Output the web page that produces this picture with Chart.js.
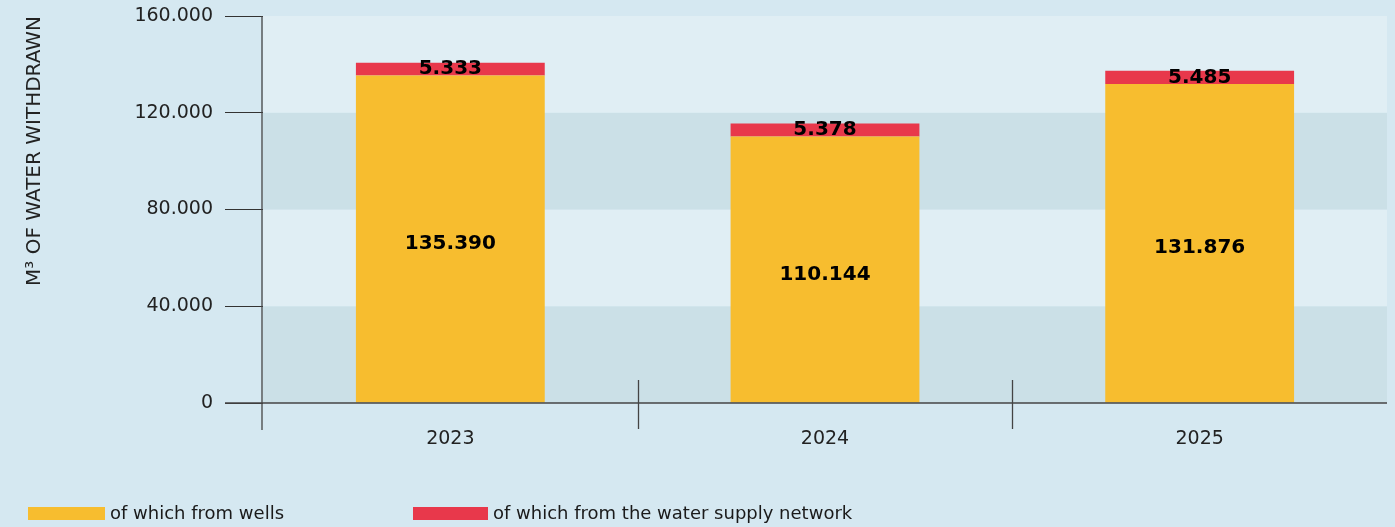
<!DOCTYPE html>
<html><head><meta charset="utf-8">
<script src="https://cdn.jsdelivr.net/npm/chart.js@4.4.0/dist/chart.umd.min.js"></script>
<style>
html,body{margin:0;padding:0;background:#d5e8f1;overflow:hidden;}
#wrap{position:relative;width:1395px;height:527px;background:#d5e8f1;}
canvas{position:absolute;left:0;top:0;}
.sw{position:absolute;top:507px;height:13px;}
.lt{position:absolute;top:502px;font-family:'DejaVu Sans';font-size:18px;line-height:21px;color:#1a1a1a;white-space:nowrap;}
</style></head>
<body>
<div id="wrap">
<canvas id="c" width="1395" height="527"></canvas>
<div class="sw" id="sw0" style="left:28px;width:77px;"></div>
<div class="lt" id="lt0" style="left:110px;"></div>
<div class="sw" id="sw1" style="left:413px;width:75px;"></div>
<div class="lt" id="lt1" style="left:493px;"></div>
</div>
<script>
const categories = ['2023', '2024', '2025'];
const wells = [135390, 110144, 131876];
const network = [5333, 5378, 5485];
const yTicks = [0, 40000, 80000, 120000, 160000];
const seriesNames = ['of which from wells', 'of which from the water supply network'];
const seriesColors = ['#f7bd2f', '#e8384b'];
const yTitle = 'M³ OF WATER WITHDRAWN';

function fmt(v){ return String(v).replace(/\B(?=(\d{3})+(?!\d))/g, '.'); }

document.getElementById('sw0').style.background = seriesColors[0];
document.getElementById('sw1').style.background = seriesColors[1];
document.getElementById('lt0').textContent = seriesNames[0];
document.getElementById('lt1').textContent = seriesNames[1];

const bandPlugin = {
  id: 'bands',
  beforeDatasetsDraw(chart) {
    const {ctx, chartArea, scales} = chart;
    const y = scales.y;
    ctx.save();
    for (let i = 0; i < yTicks.length - 1; i++) {
      const y0 = y.getPixelForValue(yTicks[i + 1]);
      const y1 = y.getPixelForValue(yTicks[i]);
      ctx.fillStyle = (i % 2 === 0) ? '#cbe0e7' : '#e0eef4';
      ctx.fillRect(chartArea.left, y0, chartArea.right - chartArea.left, y1 - y0);
    }
    ctx.restore();
  }
};

const axisPlugin = {
  id: 'axes',
  afterDatasetsDraw(chart) {
    const {ctx, chartArea, scales} = chart;
    const x = scales.x, y = scales.y;
    const y0 = y.getPixelForValue(0);
    ctx.save();
    ctx.strokeStyle = '#444';
    ctx.lineWidth = 1.3;
    ctx.beginPath();
    ctx.moveTo(chartArea.left - 1, chartArea.top);
    ctx.lineTo(chartArea.left - 1, y0 + 27);
    ctx.stroke();
    ctx.beginPath();
    ctx.moveTo(chartArea.left - 38, y0);
    ctx.lineTo(chartArea.right, y0);
    ctx.stroke();
    for (let i = 0; i < categories.length - 1; i++) {
      const sx = Math.round((x.getPixelForValue(i) + x.getPixelForValue(i + 1)) / 2) + 0.5;
      ctx.beginPath();
      ctx.moveTo(sx, y0 - 23);
      ctx.lineTo(sx, y0 + 26);
      ctx.stroke();
    }
    ctx.fillStyle = '#000';
    ctx.font = 'bold 20px "DejaVu Sans"';
    ctx.textAlign = 'center';
    ctx.textBaseline = 'middle';
    chart.data.datasets.forEach((ds, di) => {
      const meta = chart.getDatasetMeta(di);
      meta.data.forEach((el, i) => {
        const cy = (el.y + el.base) / 2 + (di === 0 ? 5 : 0);
        ctx.fillText(fmt(ds.data[i]), el.x, cy);
      });
    });
    ctx.restore();
  }
};

new Chart(document.getElementById('c'), {
  type: 'bar',
  data: {
    labels: categories,
    datasets: [
      { label: seriesNames[0], data: wells, backgroundColor: seriesColors[0], borderWidth: 0 },
      { label: seriesNames[1], data: network, backgroundColor: seriesColors[1], borderWidth: 0 }
    ]
  },
  options: {
    responsive: false,
    animation: false,
    devicePixelRatio: 1,
    layout: { padding: { top: 16, right: 8, bottom: 0, left: 0 } },
    plugins: { legend: { display: false }, tooltip: { enabled: false } },
    datasets: { bar: { barPercentage: 0.504, categoryPercentage: 1 } },
    scales: {
      x: {
        stacked: true,
        grid: { display: false },
        border: { display: false },
        ticks: { padding: 17, color: '#222', font: { family: 'DejaVu Sans', size: 19 } },
        afterFit(s) { s.height = 124; s.paddingLeft = 0; s.paddingRight = 0; }
      },
      y: {
        stacked: true,
        min: 0, max: 160000,
        afterBuildTicks(s) { s.ticks = yTicks.map(v => ({ value: v })); },
        grid: { drawOnChartArea: false, drawTicks: true, tickLength: 38, color: '#333', lineWidth: 1 },
        border: { display: false },
        ticks: { padding: 12, color: '#222', font: { family: 'DejaVu Sans', size: 19 }, callback: v => fmt(v) },
        title: { display: true, text: yTitle, align: 'end', color: '#222', font: { family: 'DejaVu Sans', size: 20 }, padding: { top: 23, bottom: 0 } },
        afterFit(s) { s.width = 263; s.paddingTop = 0; s.paddingBottom = 0; }
      }
    }
  },
  plugins: [bandPlugin, axisPlugin]
});
</script>
</body></html>
